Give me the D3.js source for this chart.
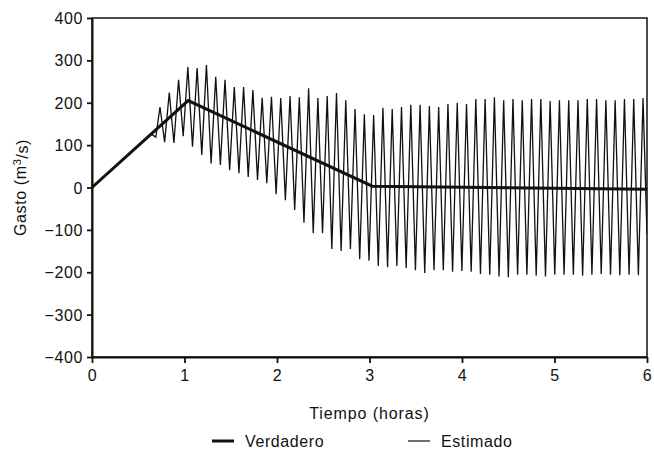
<!DOCTYPE html>
<html>
<head>
<meta charset="utf-8">
<script src="https://cdn.jsdelivr.net/npm/d3@7"></script>
<style>
  body { margin: 0; background: #fff; }
  svg text { font-family: "Liberation Sans", Arial, sans-serif; fill: #111; }
</style>
</head>
<body>
<div id="chart"></div>
<script>
// tick labels
const xTicks = [0, 1, 2, 3, 4, 5, 6];
const yTicks = [-400, -300, -200, -100, 0, 100, 200, 300, 400];

// "Verdadero" (true hydrograph)
const trueT = [0, 1.04, 3.03, 6];
const trueQ = [0, 205, 3, -4];

// "Estimado": lead-in before the oscillation starts
const leadT = [0, 0.64, 0.69];
const leadQ = [0, 126, 119];

// peaks and troughs of the oscillation (one cycle ~0.1 h)
const firstPeakT = 0.735, lastPeakT = 5.957;
const peakQ = [190, 224, 254, 284, 282, 289, 261, 254, 237, 237, 230,
  212, 214, 211, 216, 213, 234, 211, 216, 223, 206, 185, 173, 171, 188, 185, 190, 195, 195, 192, 190, 197, 200,
  197, 209, 209, 213, 206, 209, 206, 209, 209, 204, 206, 206, 206, 209, 209, 206, 206, 209, 209, 211];
const troughQ = [107, 105, 121, 96, 77, 57, 53, 41, 34, 25, 18, 10, -16,
  -30, -53, -83, -108, -108, -145, -150, -145, -169, -173, -185, -188, -185, -190, -195, -202, -195, -195, -199,
  -197, -199, -204, -206, -210, -212, -206, -206, -208, -210, -206, -206, -206, -208, -206, -204, -206, -207, -206, -207];
const endT = 6, endQ = -110;

const
  width = 654, height = 458,
  margin = { top: 18, right: 7, bottom: 101, left: 92 },
  innerWidth = width - margin.left - margin.right,
  innerHeight = height - margin.top - margin.bottom;

// build the estimated series
const step = (lastPeakT - firstPeakT) / (peakQ.length - 1);
const estimated = leadT.map((t, i) => [t, leadQ[i]]);
peakQ.forEach((q, k) => {
  estimated.push([firstPeakT + k * step, q]);
  if (k < troughQ.length) estimated.push([firstPeakT + (k + 0.5) * step, troughQ[k]]);
});
estimated.push([endT, endQ]);
const verdadero = trueT.map((t, i) => [t, trueQ[i]]);

// scales
const xScale = d3.scaleLinear().domain([0, 6]).range([0, innerWidth]);
const yScale = d3.scaleLinear().domain([-400, 400]).range([innerHeight, 0]);

const svg = d3.select("#chart").append("svg")
  .attr("width", width).attr("height", height);

const mainG = svg.append("g")
  .attr("transform", `translate(${margin.left},${margin.top})`);

// clip so the lines stay in the frame
svg.append("defs").append("clipPath").attr("id", "clip")
  .append("rect").attr("width", innerWidth).attr("height", innerHeight);

const line = d3.line().x(d => xScale(d[0])).y(d => yScale(d[1]));

const plot = mainG.append("g").attr("clip-path", "url(#clip)");

plot.append("path")
  .datum(estimated)
  .attr("fill", "none")
  .attr("stroke", "#111")
  .attr("stroke-width", 1.3)
  .attr("stroke-linejoin", "miter")
  .attr("d", line);

plot.append("path")
  .datum(verdadero)
  .attr("fill", "none")
  .attr("stroke", "#111")
  .attr("stroke-width", 3)
  .attr("d", line);

// frame
mainG.append("rect")
  .attr("width", innerWidth).attr("height", innerHeight)
  .attr("fill", "none").attr("stroke", "#111").attr("stroke-width", 1.5);

// axes
const xAxis = d3.axisBottom(xScale).tickValues(xTicks).tickFormat(d3.format("d"))
  .tickSizeInner(6).tickSizeOuter(0).tickPadding(4);
const yAxis = d3.axisLeft(yScale).tickValues(yTicks).tickFormat(d3.format("d"))
  .tickSizeInner(5).tickSizeOuter(0).tickPadding(4);

const gx = mainG.append("g")
  .attr("transform", `translate(0,${innerHeight})`)
  .call(xAxis);
const gy = mainG.append("g").call(yAxis);

[gx, gy].forEach(g => {
  g.select(".domain").attr("stroke", "#111").attr("stroke-width", 2);
  g.selectAll(".tick line").attr("stroke", "#111").attr("stroke-width", 1.8);
  g.selectAll(".tick text")
    .style("font-size", "16px")
    .style("letter-spacing", "0.6px")
    .attr("fill", "#111");
});
gx.selectAll(".tick text").attr("dy", "0.85em");
gy.selectAll(".tick text").attr("dy", "0.35em");

// axis titles
svg.append("text")
  .attr("x", margin.left + innerWidth / 2)
  .attr("y", 419)
  .attr("text-anchor", "middle")
  .style("font-size", "16px")
  .style("letter-spacing", "0.9px")
  .text("Tiempo (horas)");

const yTitle = svg.append("text")
  .attr("transform", `translate(26,${margin.top + innerHeight / 2}) rotate(-90)`)
  .attr("text-anchor", "middle")
  .style("font-size", "16px")
  .style("letter-spacing", "0.6px");
yTitle.append("tspan").text("Gasto (m");
yTitle.append("tspan").attr("dy", "-0.45em").style("font-size", "11px").text("3");
yTitle.append("tspan").attr("dy", "0.45em").text("/s)");

// legend
const legendItems = [
  { name: "Verdadero", w: 3, x: 212 },
  { name: "Estimado", w: 1.2, x: 408 }
];
const legend = svg.append("g").selectAll("g")
  .data(legendItems).enter().append("g")
  .attr("transform", d => `translate(${d.x},441)`);
legend.append("line")
  .attr("x1", 0).attr("x2", 22)
  .attr("stroke", "#111").attr("stroke-width", d => d.w);
legend.append("text")
  .attr("x", 33).attr("dy", "0.35em")
  .style("font-size", "16px")
  .style("letter-spacing", "0.6px")
  .text(d => d.name);
</script>
</body>
</html>
